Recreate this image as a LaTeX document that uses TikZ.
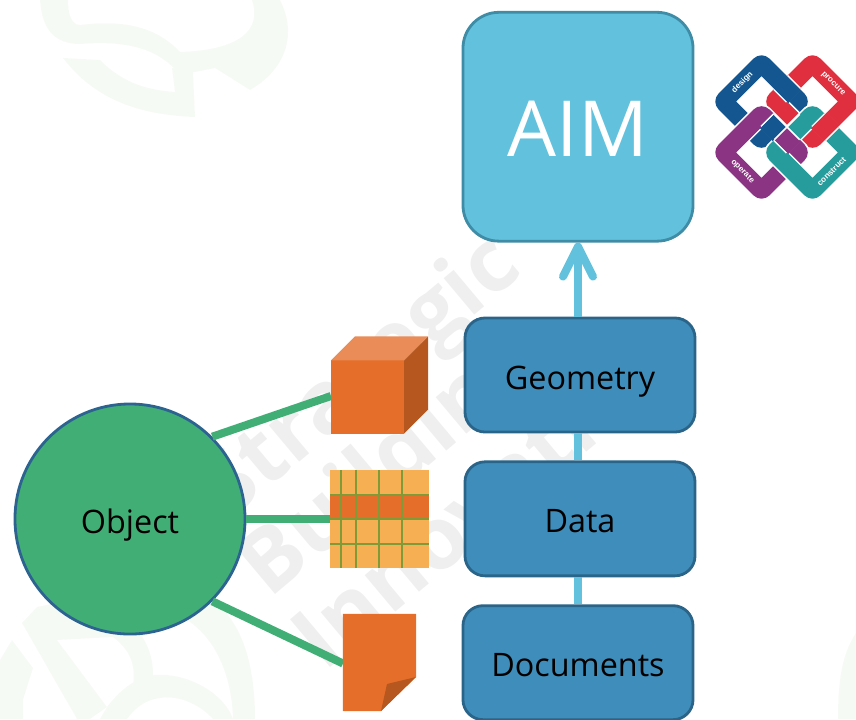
\documentclass[tikz,border=0pt]{standalone}
\usepackage{fontspec}
\setmainfont{Open Sans}
\newfontfamily\logofont{Liberation Sans}
\usepackage{xcolor}
\definecolor{aimFill}{HTML}{62C1DC}
\definecolor{aimEdge}{HTML}{3F8CA6}
\definecolor{stackFill}{HTML}{3F8DBA}
\definecolor{stackEdge}{HTML}{2A6488}
\definecolor{objectFill}{HTML}{41AF75}
\definecolor{objectEdge}{HTML}{2C6390}
\definecolor{iconMain}{HTML}{E56E2A}
\definecolor{iconDark}{HTML}{B5571F}
\definecolor{iconLight}{HTML}{EA8C58}
\definecolor{tableFill}{HTML}{F6B053}
\definecolor{tableLine}{HTML}{7F9A36}
\definecolor{markGrey}{HTML}{EFEFEF}
\definecolor{markGreen}{HTML}{F6FAF4}
\definecolor{logoBlue}{HTML}{14568F}
\definecolor{logoRed}{HTML}{E0303F}
\definecolor{logoPurple}{HTML}{8C3484}
\definecolor{logoTeal}{HTML}{269C9C}
\usepackage{tikz}
\usetikzlibrary{positioning,calc,arrows.meta}
\tikzset{%
  aimBox/.style={%
    rectangle,
    rounded corners=0.9cm,
    draw=aimEdge,
    line width=0.07cm,
    fill=aimFill,
    text=white,
    minimum width=5.75cm,
    minimum height=5.72cm,
    text height=1.48cm,
    text depth=0pt,
    font=\fontsize{55}{57}\selectfont,
    align=center
  },
  stackBox/.style={%
    rectangle,
    rounded corners=0.5cm,
    draw=stackEdge,
    line width=0.07cm,
    fill=stackFill,
    minimum width=5.75cm,
    minimum height=2.85cm,
    text height=0.7cm,
    text depth=0pt,
    font=\fontsize{23}{25}\selectfont
  },
  objectCircle/.style={%
    circle,
    draw=objectEdge,
    line width=0.07cm,
    fill=objectFill,
    minimum size=5.75cm,
    text height=0.7cm,
    text depth=0pt,
    font=\fontsize{23}{25}\selectfont
  },
  iconBox/.style={%
    rectangle,
    inner sep=0pt,
    outer sep=0pt
  },
  objectLine/.style={%
    line width=0.2cm,
    color=objectFill
  },
  stackLine/.style={%
    line width=0.2cm,
    color=aimFill
  },
  aimArrow/.style={%
    -{Straight Barb[length=0.75cm,width=0.75cm,round]},
    line width=0.2cm,
    color=aimFill
  },
  gridLine/.style={%
    line width=0.06cm,
    color=tableLine
  },
  markText/.style={%
    text=markGrey,
    rotate=40,
    font=\bfseries\fontsize{62}{64}\selectfont
  },
  logoText/.style={%
    text=white,
    inner sep=0pt,
    font=\logofont\bfseries\fontsize{5.8}{7}\selectfont
  }
}
% One link of the logo, as a square seen before the scope turns it
\newcommand{\logoRing}[3]{%
  \fill[white,even odd rule,rounded corners=8] (#2-37.5,#3-37.5) rectangle (#2+37.5,#3+37.5)
    [sharp corners] (#2-16.5,#3-16.5) rectangle (#2+16.5,#3+16.5);
  \fill[#1,even odd rule,rounded corners=8] (#2-36,#3-36) rectangle (#2+36,#3+36)
    [sharp corners] (#2-18,#3-18) rectangle (#2+18,#3+18);
}
\begin{document}
\begin{tikzpicture}[x=0.025cm,y=-0.025cm]
  \useasboundingbox (0,0) rectangle (856,719);

  % Watermark behind everything
  \fill[markGreen] (40,0) .. controls (42,30) and (55,44) .. (80,44) .. controls (130,40) and (160,50) .. (180,75)
    -- (215,68) -- (250,90) .. controls (285,70) and (298,35) .. (280,0) -- (252,0)
    .. controls (262,30) and (240,50) .. (180,52) .. controls (155,25) and (120,20) .. (80,25)
    .. controls (72,25) and (68,15) .. (68,0) -- cycle;
  \fill[markGreen] (63,58) -- (100,60) .. controls (125,85) and (150,90) .. (175,92) -- (172,68) -- (193,72)
    -- (195,117) .. controls (140,115) and (95,100) .. (63,58) -- cycle;
  \fill[markGreen] (0,660) -- (12,640) -- (33,668) -- (23,700) -- (23,719) -- (0,719) -- cycle;
  \fill[markGreen] (22,623) -- (37,607) -- (70,600) -- (130,620) .. controls (147,640) and (153,655) .. (153,675)
    -- (133,685) .. controls (136,665) and (130,650) .. (113,637) -- (57,640) -- (107,707) -- (90,719) -- (77,719) -- cycle;
  \fill[markGreen] (107,707) .. controls (120,690) and (135,678) .. (153,675) .. controls (190,672) and (225,695) .. (233,719)
    -- (213,719) .. controls (200,705) and (180,695) .. (160,698) .. controls (145,700) and (135,708) .. (127,719) -- (100,719) -- cycle;
  \fill[markGreen] (213,600) .. controls (245,625) and (255,670) .. (255,719) -- (233,719)
    .. controls (232,680) and (218,640) .. (187,620) -- cycle;
  \fill[markGreen] (856,633) .. controls (845,650) and (838,670) .. (838,719) -- (856,719) -- cycle;
  \node[markText] (markOne) at (362,380) {Strategic};
  \node[markText] (markTwo) at (392,467) {Building};
  \node[markText] (markThree) at (485,495) {Innovation};

  % Stack on the right
  \node[stackBox] (geometryBox) at (580,375) {Geometry};
  \node[stackBox, below=0.675cm of geometryBox] (dataBox) {Data};
  \node[stackBox, below=0.675cm of dataBox, xshift=-0.05cm] (documentsBox) {Documents};
  \node[aimBox, above=1.85cm of geometryBox, xshift=-0.05cm] (aimBox) {AIM};

  \draw[aimArrow] (aimBox.south |- geometryBox.north) -- (aimBox.south);
  \draw[stackLine] (aimBox.south |- dataBox.north) -- (aimBox.south |- geometryBox.south);
  \draw[stackLine] (aimBox.south |- documentsBox.north) -- (aimBox.south |- dataBox.south);

  % Object and its three icons
  \node[objectCircle] (object) at (130,519) {Object};
  \node[iconBox, fill=iconMain, minimum width=1.825cm, minimum height=1.825cm] (cubeFront) at (367.5,397) {};
  \node[iconBox, fill=tableFill, minimum width=2.475cm, minimum height=2.45cm] (tableIcon) at (379.5,519) {};
  \node[iconBox, minimum width=1.825cm, minimum height=2.425cm] (pageIcon) at (379.5,662.5) {};

  \draw[objectLine] (object.45) -- ($(cubeFront.west)+(0,-1)$);
  \draw[objectLine] (object.east) -- (tableIcon.west);
  \draw[objectLine] (object.-45) -- ($(pageIcon.west)+(0,1)$);

  % Cube
  \fill[iconLight] (cubeFront.north west) -- ++(24,-24) -- ++(73,0) -- (cubeFront.north east) -- cycle;
  \fill[iconDark] (cubeFront.north east) -- ++(24,-24) -- ++(0,73) -- (cubeFront.south east) -- cycle;

  % Table
  \fill[iconMain] ($(tableIcon.north west)+(0,25)$) rectangle ($(tableIcon.north east)+(0,49)$);
  \draw[gridLine] ($(tableIcon.north west)+(0,25)$) -- ($(tableIcon.north east)+(0,25)$);
  \draw[gridLine] ($(tableIcon.north west)+(0,49)$) -- ($(tableIcon.north east)+(0,49)$);
  \draw[gridLine] ($(tableIcon.north west)+(0,74)$) -- ($(tableIcon.north east)+(0,74)$);
  \draw[gridLine] ($(tableIcon.north west)+(11,0)$) -- ($(tableIcon.south west)+(11,0)$);
  \draw[gridLine] ($(tableIcon.north west)+(26,0)$) -- ($(tableIcon.south west)+(26,0)$);
  \draw[gridLine] ($(tableIcon.north west)+(49,0)$) -- ($(tableIcon.south west)+(49,0)$);
  \draw[gridLine] ($(tableIcon.north west)+(72,0)$) -- ($(tableIcon.south west)+(72,0)$);

  % Page with folded corner
  \fill[iconMain] (pageIcon.north west) -- (pageIcon.north east) -- ($(pageIcon.north east)+(0,63)$)
    -- ($(pageIcon.south west)+(38,0)$) -- (pageIcon.south west) -- cycle;
  \fill[iconDark] ($(pageIcon.north east)+(0,63)$) -- ($(pageIcon.north east)+(-29,70)$)
    -- ($(pageIcon.south west)+(38,0)$) -- cycle;

  % Logo
  \begin{scope}[shift={(787,127)},x=0.025cm,y=0.025cm,rotate=45]
    \logoRing{logoBlue}{0}{36}
    \logoRing{logoRed}{36}{0}
    \logoRing{logoPurple}{-36}{0}
    \logoRing{logoTeal}{0}{-36}
    % Crossings where the link drawn first has to lie on top
    \fill[white] (16.5,18) rectangle (37.5,36);
    \fill[logoBlue] (18,16) rectangle (36,38);
    \fill[white] (18,-37.5) rectangle (36,-16.5);
    \fill[logoRed] (16,-36) rectangle (38,-18);
    \fill[white] (-18,18) rectangle (0,19.5);
    \fill[logoBlue] (-20,0) rectangle (0,18);
    \fill[white] (-19.5,-18) rectangle (-18,0);
    \fill[logoPurple] (-18,-20) rectangle (0,0);
    \fill[white] (-0.8,-18) rectangle (0.8,18);
    \fill[white] (-18,-0.8) rectangle (18,0.8);
    \node[logoText, rotate=45] (designLabel) at (0,63) {design};
    \node[logoText, rotate=-45] (procureLabel) at (63,-2) {procure};
    \node[logoText, rotate=-45] (operateLabel) at (-63,0) {operate};
    \node[logoText, rotate=45] (constructLabel) at (0,-63) {construct};
  \end{scope}
\end{tikzpicture}
\end{document}
